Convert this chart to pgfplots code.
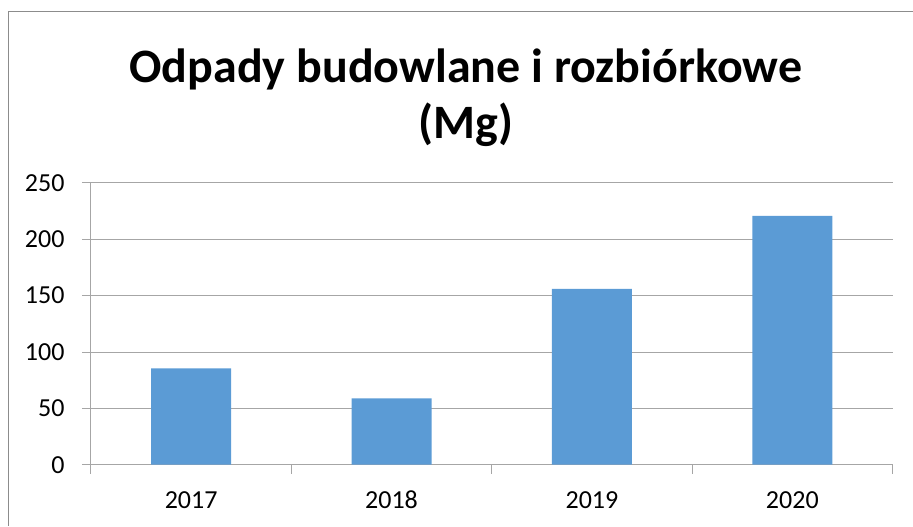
\documentclass[border=0pt]{standalone}
\usepackage{pgfplots}
\pgfplotsset{compat=1.18}
\usepackage{fontspec}
\setmainfont{Carlito}
\definecolor{barblue}{HTML}{5B9BD5}
\definecolor{gridgray}{HTML}{A6A6A6}
\definecolor{framegray}{HTML}{8C8C8C}
\begin{document}
\begin{tikzpicture}[x=1pt,y=1pt]
\path (0,0) rectangle (913,526);
\draw[framegray, line width=1pt] (8.5,0) -- (8.5,514) -- (913,514);
\node[align=center, font=\bfseries\fontsize{48}{56}\selectfont] at (466,428) {Odpady budowlane i rozbiórkowe\\(Mg)};
\begin{axis}[
  at={(91pt,61pt)}, anchor=south west,
  scale only axis, width=802pt, height=282pt,
  xmin=-0.5, xmax=3.5, ymin=0, ymax=250,
  ytick={0,50,...,250},
  xtick={0,1,2,3}, xticklabels={2017,2018,2019,2020},
  minor xtick={-0.5,0.5,1.5,2.5,3.5},
  major x tick style={draw=none},
  tick align=outside, major tick length=9pt, minor tick length=9pt,
  tick style={gridgray, line width=1pt},
  ymajorgrids, grid style={gridgray, line width=1pt},
  axis x line*=bottom, axis y line*=left,
  axis line style={gridgray, line width=1pt},
  ticklabel style={font=\fontsize{26}{30}\selectfont},
  /pgf/number format/assume math mode=true,
  yticklabel style={xshift=-14pt},
  xticklabel style={text height=17pt, text depth=0pt, yshift=-14pt},
  ybar, bar width=80pt,
]
\addplot[fill=barblue, draw=none] coordinates {(0,85.4) (1,58.9) (2,155.9) (3,220.8)};
\end{axis}
\end{tikzpicture}
\end{document}
